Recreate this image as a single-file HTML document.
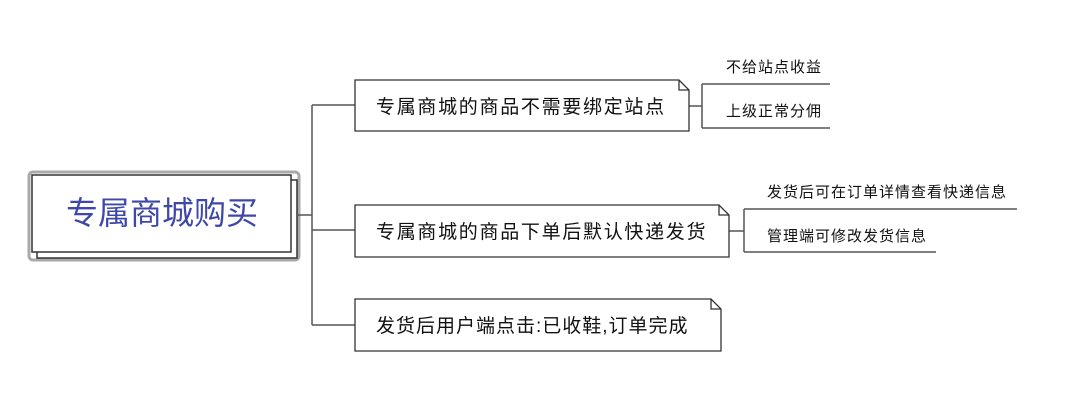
<!DOCTYPE html>
<html><head><meta charset="utf-8"><style>
body{margin:0;width:1072px;height:410px;background:#fff;overflow:hidden;font-family:"Liberation Sans","Noto Sans CJK SC",sans-serif;}
svg{position:absolute;left:0;top:0}
text{font-family:"Liberation Sans","Noto Sans CJK SC",sans-serif;}
</style></head><body>
<svg width="1072" height="410" viewBox="0 0 1072 410">
<g fill="none" stroke="#666" stroke-width="2">
<rect x="29" y="172" width="270" height="88" rx="4" stroke="#aaa" stroke-width="3"/>
</g>
<rect x="37" y="180" width="260" height="78" fill="#fff" stroke="#333" stroke-width="1.5"/>
<rect x="32" y="175" width="259" height="77" fill="#fff" stroke="#333" stroke-width="1.5"/>
<text x="162" y="224" font-size="32" fill="#3f48a8" text-anchor="middle">专属商城购买</text>
<g fill="none" stroke="#555" stroke-width="1.5">
<path d="M297 215H312M312 105V325M312 105H355M312 230H355M312 325H355"/>
<path d="M689 106H702M702 84V128M702 84H830M702 128H830"/>
<path d="M729 231H744M744 209V252M744 209H1017M744 252H936"/>
</g>
<g fill="#fff" stroke="#333" stroke-width="1.3">
<path d="M355 80H679L689 90V131H355Z"/><path d="M679 80V90H689" fill="none"/>
<path d="M355 205H719L729 215V257H355Z"/><path d="M719 205V215H729" fill="none"/>
<path d="M355 299H711L721 309V351H355Z"/><path d="M711 299V309H721" fill="none"/>
</g>
<g font-size="19" fill="#111" letter-spacing="1.7">
<text x="376" y="113">专属商城的商品不需要绑定站点</text>
<text x="376" y="238">专属商城的商品下单后默认快递发货</text>
<text x="376" y="332" letter-spacing="1">发货后用户端点击:已收鞋,订单完成</text>
</g>
<g font-size="15" fill="#111" letter-spacing="1">
<text x="726" y="72">不给站点收益</text>
<text x="726" y="116">上级正常分佣</text>
<text x="767" y="197">发货后可在订单详情查看快递信息</text>
<text x="767" y="241">管理端可修改发货信息</text>
</g>
</svg>
</body></html>
